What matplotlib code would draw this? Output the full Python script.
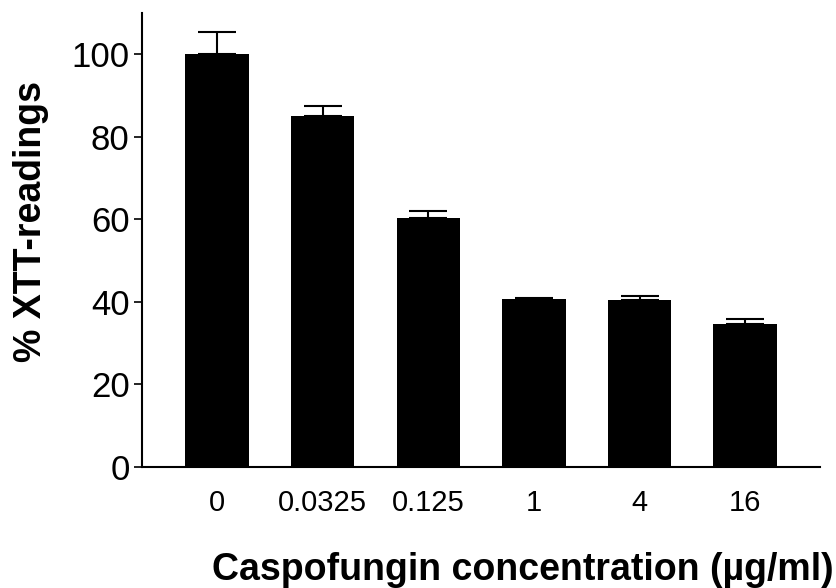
import numpy as np
import matplotlib
matplotlib.use("Agg")
import matplotlib.pyplot as plt

# datos
concentraciones = ["0", "0.0325", "0.125", "1", "4", "16"]
xtt = [100.0, 85.0, 60.2, 40.6, 40.5, 34.7]
error = [5.3, 2.4, 1.7, 0.3, 1.0, 1.2]

fuente = ["Liberation Sans", "DejaVu Sans"]

fig = plt.figure(figsize=(8.36, 5.88), dpi=100)
ax = fig.add_axes([0.170, 0.206, 0.811, 0.772])

x = np.arange(len(concentraciones))
ax.bar(x, xtt, width=0.6, color="black", zorder=2)
ax.errorbar(x, xtt, yerr=[np.zeros(len(error)), error], fmt="none",
            ecolor="black", elinewidth=1.5, capsize=14, capthick=1.5, zorder=3)

ax.set_xlim(-0.71, 5.71)
ax.set_ylim(0, 110)
ax.set_yticks([0, 20, 40, 60, 80, 100])
ax.set_xticks(x)
ax.set_xticklabels(concentraciones, family=fuente, fontsize=21)
ax.set_yticklabels(["0", "20", "40", "60", "80", "100"], family=fuente, fontsize=25)

ax.spines["top"].set_visible(False)
ax.spines["right"].set_visible(False)
ax.spines["left"].set_linewidth(1.5)
ax.spines["bottom"].set_linewidth(1.5)
ax.tick_params(axis="x", length=0, pad=16)
ax.tick_params(axis="y", length=6, width=1.2, pad=3)

fig.text(0.037, 0.624, "% XTT-readings", rotation=90, ha="center", va="center",
         family=fuente, fontsize=27, fontweight="bold")
fig.text(0.2536, 0.014, "Caspofungin concentration (\u00b5g/ml)", ha="left", va="baseline",
         family=fuente, fontsize=27, fontweight="bold")

fig.savefig("out.png", dpi=100)
